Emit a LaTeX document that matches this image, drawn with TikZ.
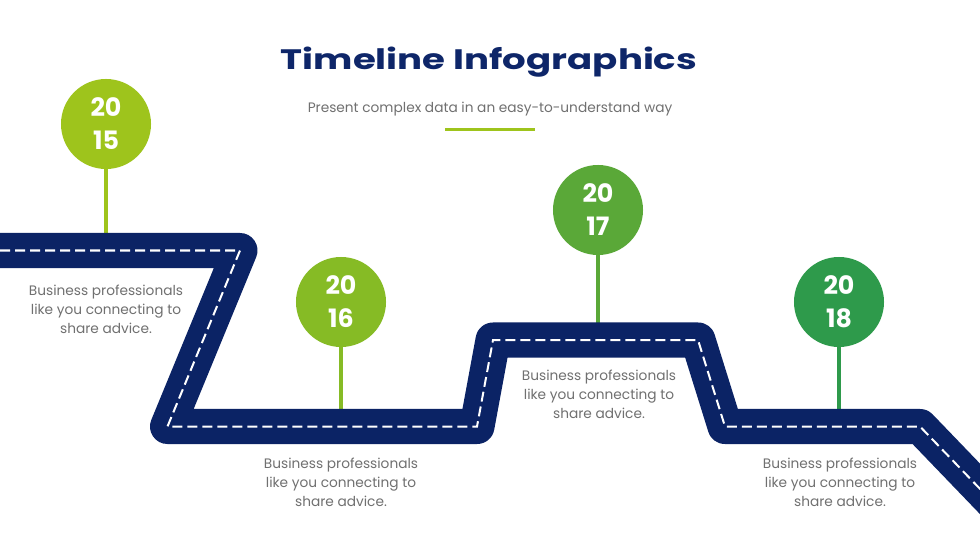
\documentclass[tikz,border=0pt]{standalone}
\usepackage{xcolor}
\usepackage{fontspec}
\setmainfont{Poppins}
\newfontfamily\widefont{Poppins}[FakeStretch=1.32]
\usetikzlibrary{positioning}
\definecolor{navy}{RGB}{11,35,101}
\definecolor{titleblue}{RGB}{14,38,105}
\definecolor{greytext}{RGB}{112,112,112}
\definecolor{limeA}{RGB}{158,196,28}
\definecolor{limeB}{RGB}{134,187,37}
\definecolor{greenC}{RGB}{90,168,56}
\definecolor{greenD}{RGB}{46,154,75}

\begin{document}
\begin{tikzpicture}[x=0.025cm,y=-0.025cm,
  road/.style={draw=navy, line width=0.875cm, line join=round},
  lane/.style={draw=white, line width=0.05cm, dash pattern=on 0.25cm off 0.125cm},
  year/.style={circle, fill=#1, minimum size=2.25cm, inner sep=0pt, text=white, align=center, font=\bfseries\fontsize{18}{23.5}\selectfont},
  stem/.style={draw=#1, line width=0.1cm},
  note/.style={text=greytext, align=center, font=\fontsize{9.75}{13.5}\selectfont}]
\useasboundingbox (0,0) rectangle (980,551);
\clip (0,0) rectangle (980,551);
\fill[white] (0,0) rectangle (980,551);

% heading
\node[anchor=base, text=titleblue, font=\widefont\bfseries\fontsize{20}{24}\selectfont] (title) at (489,70) {Timeline Infographics};
\node[anchor=base, text=greytext, font=\fontsize{9.75}{12}\selectfont] (subtitle) at (490,113) {Present complex data in an easy-to-understand way};
\coordinate (barL) at (445,130);
\coordinate (barR) at (535,130);
\draw[limeA, line width=0.075cm] (barL) -- (barR);

% the road
\coordinate (p0) at (-30,250.5);
\coordinate (p1) at (240,250.5);
\coordinate (p2) at (167.5,426.5);
\coordinate (p3) at (477,426.5);
\coordinate (p4) at (493,340);
\coordinate (p5) at (698,340);
\coordinate (p6) at (725,426.5);
\coordinate (p7) at (920,426.5);
\coordinate (p8) at (1060,572);

% years and stems
\node[year=limeA] (y15) at (106,124) {20\\15};
\node[year=limeB] (y16) at (341,302) {20\\16};
\node[year=greenC] (y17) at (598,210) {20\\17};
\node[year=greenD] (y18) at (839,302) {20\\18};
\coordinate (r15) at (106,250);
\coordinate (r16) at (341,426);
\coordinate (r17) at (598,340);
\coordinate (r18) at (839,426);
\draw[stem=limeA] (y15.south) -- (r15);
\draw[stem=limeB] (y16.south) -- (r16);
\draw[stem=greenC] (y17.south) -- (r17);
\draw[stem=greenD] (y18.south) -- (r18);

\draw[road] (p0) -- (p1) -- (p2) -- (p3) -- (p4) -- (p5) -- (p6) -- (p7) -- (p8);
\draw[lane] (p0) -- (p1) -- (p2) -- (p3) -- (p4) -- (p5) -- (p6) -- (p7) -- (p8);

% notes
\node[note] (n15) at (106,309) {Business professionals\\like you connecting to\\share advice.};
\node[note] (n16) at (341,482) {Business professionals\\like you connecting to\\share advice.};
\node[note] (n17) at (599,394) {Business professionals\\like you connecting to\\share advice.};
\node[note] (n18) at (840,482) {Business professionals\\like you connecting to\\share advice.};
\end{tikzpicture}
\end{document}
